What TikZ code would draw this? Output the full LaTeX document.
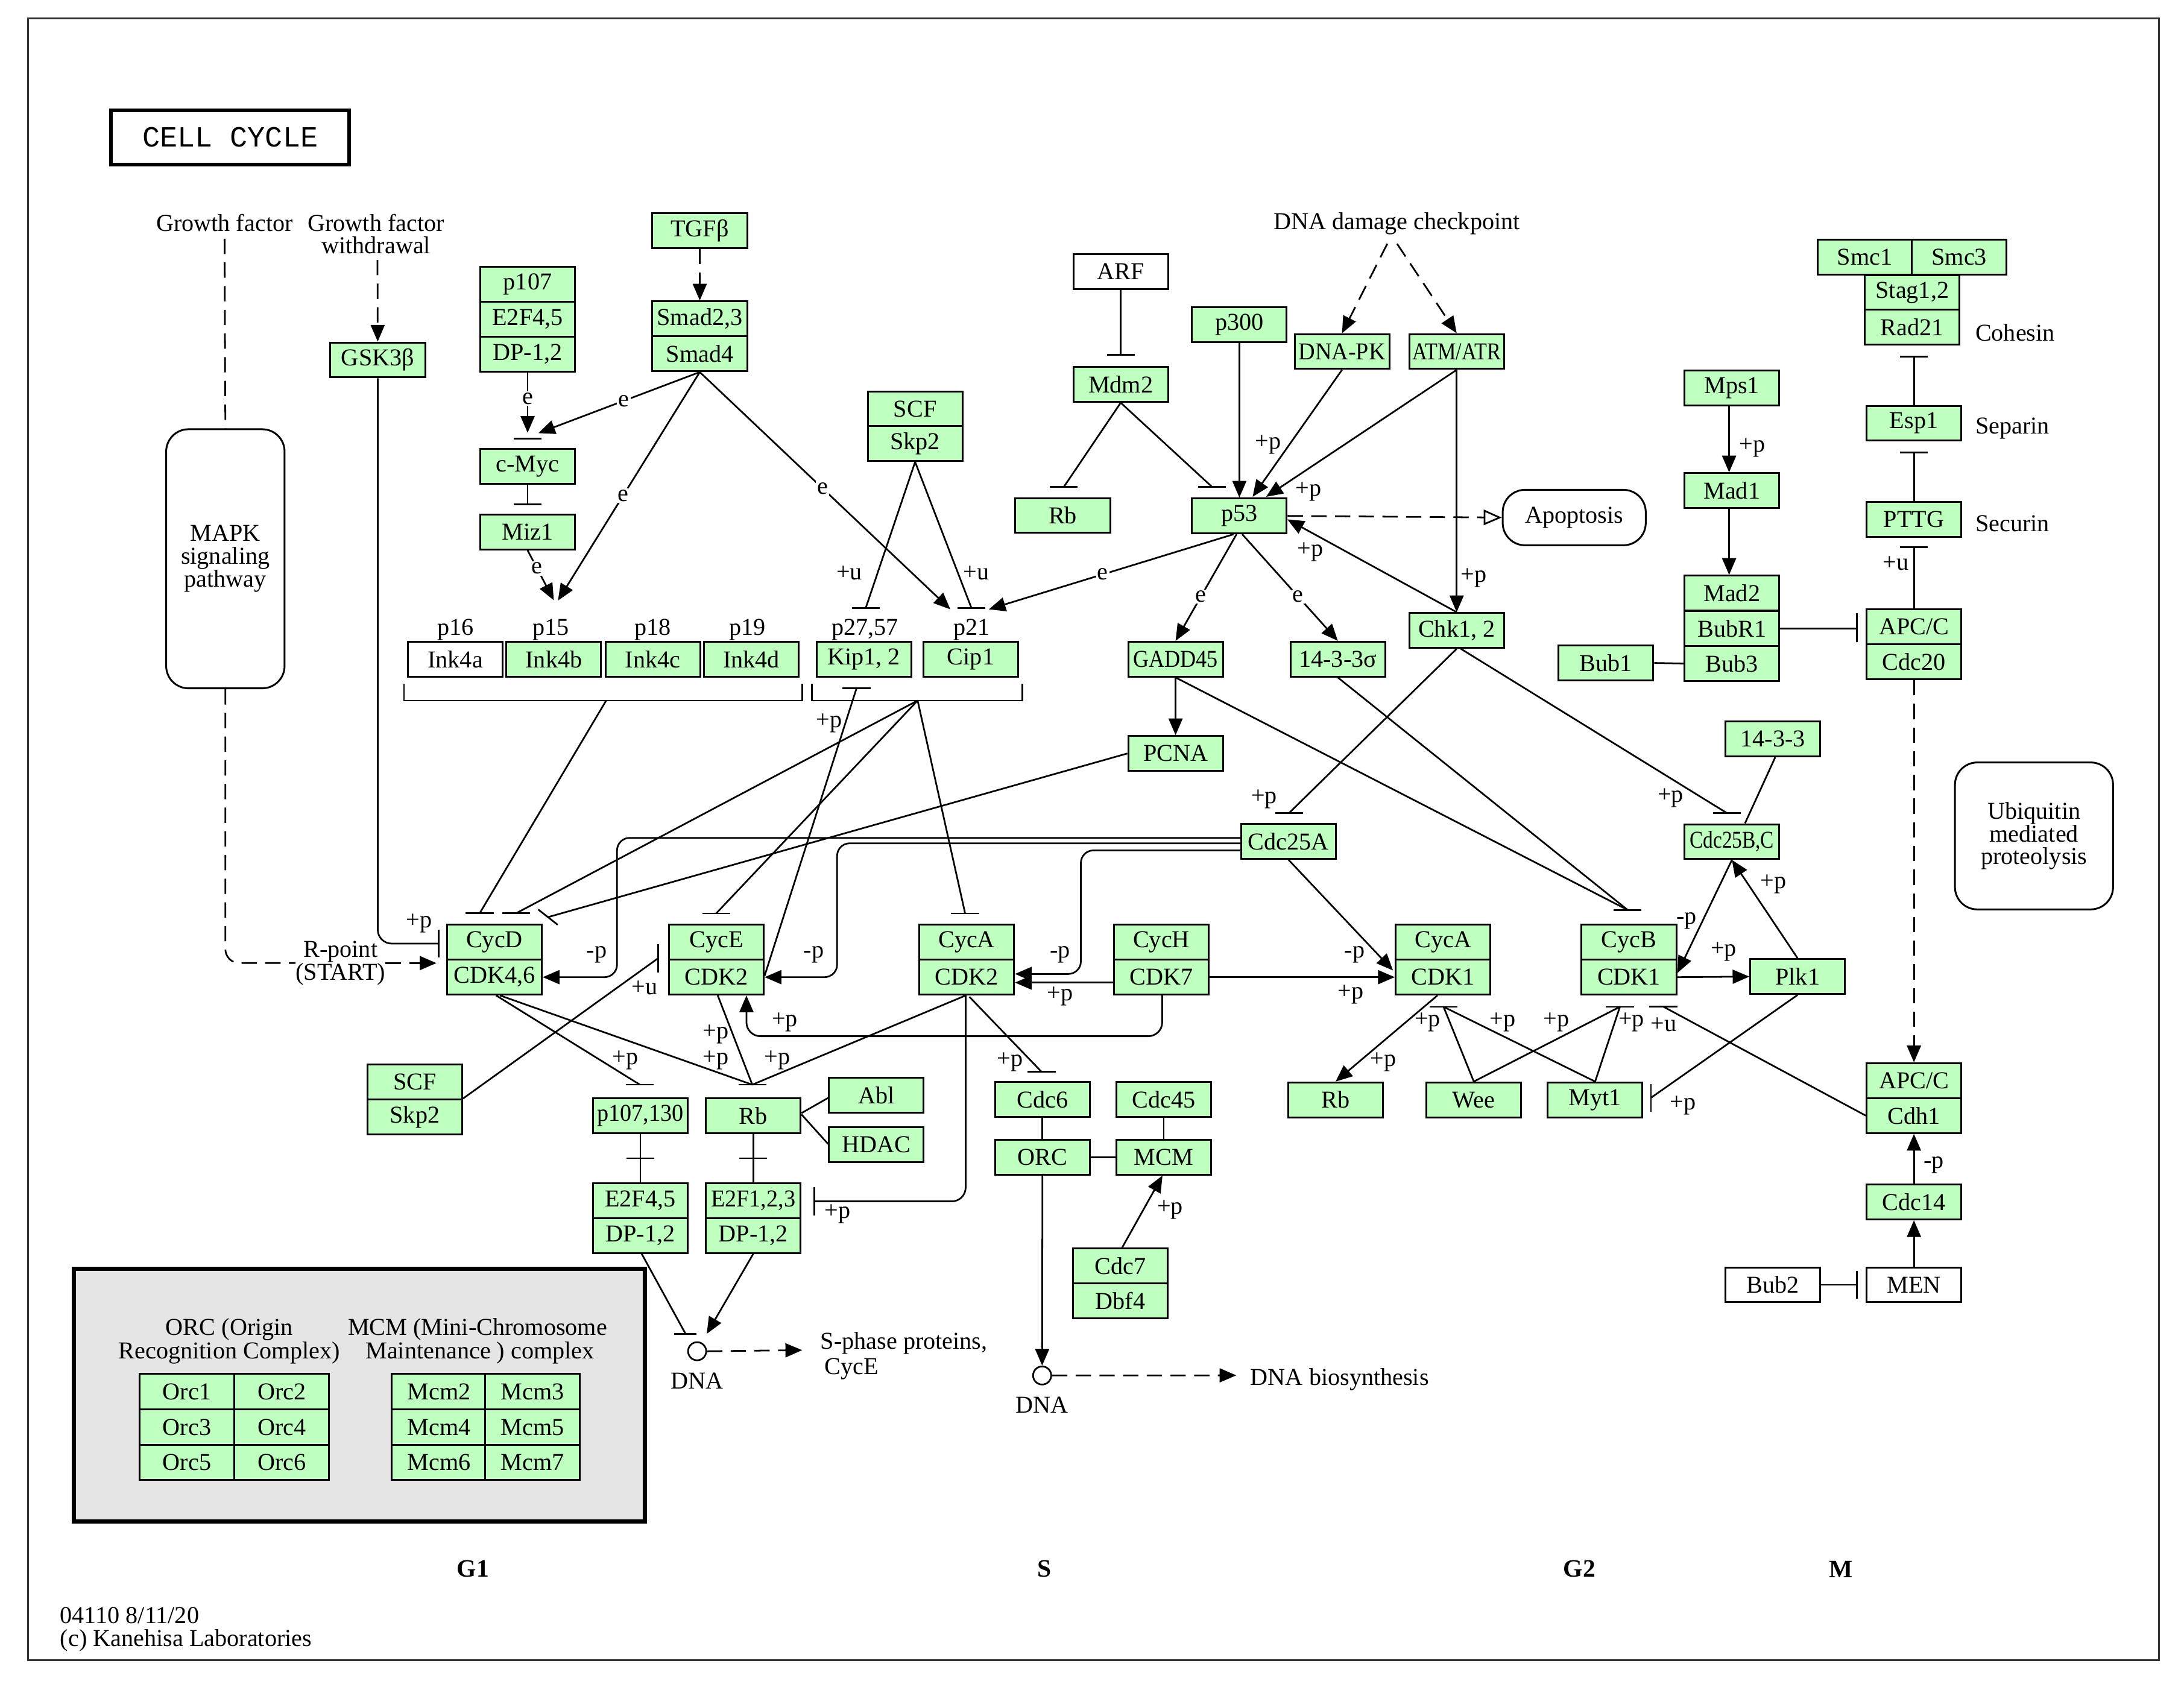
\documentclass[tikz,border=0pt]{standalone}
\usepackage{fontspec}
\usepackage{graphicx}
\setmainfont{Liberation Serif}
\newfontfamily\monof{Liberation Mono}
\usetikzlibrary{arrows.meta,calc}
\definecolor{kg}{RGB}{191,255,191}
\definecolor{kgray}{RGB}{229,229,229}
\newcommand\fs{\fontsize{17.4}{16.4}\selectfont}
\newcommand\sq[2][0.85]{\scalebox{#1}[1]{#2}}
\newcommand\bh[1]{\draw[ln] ($(#1)+(-10,0)$) -- ($(#1)+(10,0)$);}
\newcommand\bv[1]{\draw[ln] ($(#1)+(0,-10)$) -- ($(#1)+(0,10)$);}
\tikzset{
 ln/.style={line width=1.2pt},
 arw/.style={ln,-{Triangle[length=12pt,width=10pt]}},
 dsh/.style={ln,dash pattern=on 11pt off 6pt},
 dar/.style={arw,dash pattern=on 11pt off 6pt},
 box/.style={draw,line width=1.3pt,fill=kg,minimum width=68pt,minimum height=25pt,inner sep=0pt,font=\fs},
 wbox/.style={box,fill=white},
 rbox/.style={draw,line width=1.3pt,rounded corners=16pt,fill=white,inner sep=0pt,font=\fs,align=center},
 txt/.style={font=\fs,inner sep=0pt},
 el/.style={font=\fs,inner sep=1pt,fill=white},
 phase/.style={font=\fontsize{18}{18}\selectfont\bfseries,inner sep=0pt},
}
\begin{document}
\begin{tikzpicture}[x=1pt,y=-1pt]
\useasboundingbox (0,0) rectangle (1568,1213.4);
\fill[white] (0,0) rectangle (1568,1213.4);
\draw[line width=1.3pt,black!80] (20,13) rectangle (1550,1192);

% title
\node[draw,line width=2.6pt,minimum width=170.9,minimum height=38.8,inner sep=0pt,font=\monof\fontsize{21}{21}\selectfont] (title) at (165.25,98.6) {CELL CYCLE};

% free texts
\node[txt] (gf) at (161.2,160) {Growth factor};
\node[txt,align=center] (gfw) at (270,168) {Growth factor\\withdrawal};
\node[txt] (ddc) at (1002.8,160.4) {DNA damage checkpoint};
\node[txt,align=center] (rpt) at (244.5,691.5) {R-point\\(START)};
\node[rbox,minimum width=85,minimum height=186] (mapk) at (161.8,401.2) {MAPK\\signaling\\pathway};
\node[rbox,minimum width=113.5,minimum height=105.5] (ubiq) at (1460.3,600.2) {Ubiquitin\\mediated\\proteolysis};
\node[rbox,minimum width=102.7,minimum height=39.8] (apop) at (1130.2,371.6) {Apoptosis};

% gene boxes
\node[box] (gsk) at (271.2,258.4) {GSK3β};
\node[box] (p107) at (378.8,204) {p107};
\node[box] (e2f45a) at (378.8,229.2) {E2F4,5};
\node[box] (dp12a) at (378.8,254.3) {DP-1,2};
\node[box] (cmyc) at (378.8,334.9) {c-Myc};
\node[box] (miz1) at (378.8,382) {Miz1};
\node[box] (tgfb) at (502.4,165.6) {TGFβ};
\node[box] (smad23) at (502.4,228.9) {Smad2,3};
\node[box] (smad4) at (502.4,254) {Smad4};
\node[wbox] (ink4a) at (326.9,473.5) {Ink4a};
\node[box] (ink4b) at (397.6,473.5) {Ink4b};
\node[box] (ink4c) at (468.7,473.5) {Ink4c};
\node[box] (ink4d) at (539.4,473.5) {Ink4d};
\node[box] (kip) at (620.2,473.5) {Kip1, 2};
\node[box] (cip1) at (697,473.5) {Cip1};
\node[txt,anchor=base] at (327,456) {p16};
\node[txt,anchor=base] at (395.5,456) {p15};
\node[txt,anchor=base] at (468.8,456) {p18};
\node[txt,anchor=base] at (536.5,456) {p19};
\node[txt,anchor=base] at (621,456) {p27,57};
\node[txt,anchor=base] at (697.5,456) {p21};
\node[box] (scf1) at (657,293.5) {SCF};
\node[box] (skp2a) at (657,318.5) {Skp2};
\node[wbox] (arf) at (804.6,195) {ARF};
\node[box] (mdm2) at (804.6,276) {Mdm2};
\node[box] (rb1) at (763,370.1) {Rb};
\node[box] (p300) at (889.8,233.2) {p300};
\node[box] (dnapk) at (963.5,252.4) {\sq[0.95]{DNA-PK}};
\node[box] (atm) at (1045.8,252.4) {\sq{ATM/ATR}};
\node[box] (p53) at (889.8,370.4) {p53};
\node[box] (gadd45) at (844,473.3) {\sq[0.9]{GADD45}};
\node[box] (s1433s) at (960.5,473.3) {14-3-3σ};
\node[box] (chk) at (1045.8,452.7) {Chk1, 2};
\node[box] (pcna) at (844,541) {PCNA};
\node[box] (cdc25a) at (925.1,604.2) {Cdc25A};
\node[box] (cdc25bc) at (1243.4,604.3) {\sq[0.83]{Cdc25B,C}};
\node[box] (s1433) at (1272.9,530.6) {14-3-3};
\node[box] (bub1) at (1153,476) {Bub1};
\node[box] (mps1) at (1243.4,278.7) {Mps1};
\node[box] (mad1) at (1243.4,352.3) {Mad1};
\node[box] (mad2) at (1243.4,425.9) {Mad2};
\node[box] (bubr1) at (1243.4,451.2) {BubR1};
\node[box] (bub3) at (1243.4,476.4) {Bub3};
\node[box] (smc1) at (1338.8,184.6) {Smc1};
\node[box] (smc3) at (1406.6,184.6) {Smc3};
\node[box] (stag) at (1372.9,210) {Stag1,2};
\node[box] (rad21) at (1372.9,234.8) {Rad21};
\node[txt,anchor=west] at (1418,239) {Cohesin};
\node[box] (esp1) at (1374.1,303.9) {Esp1};
\node[txt,anchor=west] at (1418,307.6) {Separin};
\node[box] (pttg) at (1374.1,373) {PTTG};
\node[txt,anchor=west] at (1418,376) {Securin};
\node[box] (apcc1) at (1374.1,450) {APC/C};
\node[box] (cdc20) at (1374.1,475.2) {Cdc20};
\node[box] (apcc2) at (1374.1,775.9) {APC/C};
\node[box] (cdh1) at (1374.1,801) {Cdh1};
\node[box] (cdc14) at (1374.1,863) {Cdc14};
\node[wbox] (men) at (1374.1,922.5) {MEN};
\node[wbox] (bub2) at (1272.7,922.5) {Bub2};
\node[box] (cycd) at (355,676.5) {CycD};
\node[box] (cdk46) at (355,701.6) {CDK4,6};
\node[box] (cyce) at (514.3,676.5) {CycE};
\node[box] (cdk2e) at (514.3,701.6) {CDK2};
\node[box] (cyca2) at (694,676.5) {CycA};
\node[box] (cdk2a) at (694,701.6) {CDK2};
\node[box] (cych) at (833.8,676.5) {CycH};
\node[box] (cdk7) at (833.8,701.6) {CDK7};
\node[box] (cyca1) at (1036,676.5) {CycA};
\node[box] (cdk1a) at (1036,701.6) {CDK1};
\node[box] (cycb) at (1169.5,676.5) {CycB};
\node[box] (cdk1b) at (1169.5,701.6) {CDK1};
\node[box] (plk1) at (1290.6,701.2) {Plk1};
\node[box] (scf2) at (297.8,776.8) {SCF};
\node[box] (skp2b) at (297.8,801.9) {Skp2};
\node[box] (p107130) at (459.7,801.2) {\sq[0.95]{p107,130}};
\node[box] (rb2) at (540.8,801.2) {Rb};
\node[box] (abl) at (629.2,786.3) {Abl};
\node[box] (hdac) at (629.2,821.8) {HDAC};
\node[box] (e2f45b) at (459.7,862) {E2F4,5};
\node[box] (dp12b) at (459.7,887.1) {DP-1,2};
\node[box] (e2f123) at (540.8,862) {\sq[0.95]{E2F1,2,3}};
\node[box] (dp12c) at (540.8,887.1) {DP-1,2};
\node[box] (cdc6) at (748.4,789.5) {Cdc6};
\node[box] (cdc45) at (835.5,789.5) {Cdc45};
\node[box] (orc) at (748.4,830.9) {ORC};
\node[box] (mcm) at (835.5,830.9) {MCM};
\node[box] (cdc7) at (804.3,909) {Cdc7};
\node[box] (dbf4) at (804.3,934.1) {Dbf4};
\node[box] (rb3) at (958.9,789.7) {Rb};
\node[box] (wee) at (1058.1,789.7) {Wee};
\node[box] (myt1) at (1145.2,789.7) {Myt1};
\node[circle,draw,line width=1.2pt,minimum size=13pt,inner sep=0pt] (dna1) at (500.5,970.2) {};
\node[circle,draw,line width=1.2pt,minimum size=13pt,inner sep=0pt] (dna2) at (748.2,987.6) {};
\node[txt] at (500.5,991.5) {DNA};
\node[txt] at (748.2,1008.9) {DNA};
\node[txt,anchor=west] (sph) at (588.9,964.4) {S-phase proteins,};
\node[txt,anchor=west] at (591.9,982.8) {CycE};
\node[txt,anchor=west] (dbs) at (897.6,990.5) {DNA biosynthesis};

% legend box
\node[draw,line width=3pt,fill=kgray,minimum width=409.8,minimum height=181.5,inner sep=0pt] (legend) at (257.9,1001.75) {};
\node[txt] at (164.7,954.6) {ORC (Origin};
\node[txt] at (164.7,971.3) {Recognition Complex)};
\node[txt] at (342.9,954.6) {MCM (Mini-Chromosome};
\node[txt] at (344.6,971.3) {Maintenance ) complex};
\foreach \n/\x/\y in {Orc1/134.2/999.2,Orc2/202.3/999.2,Orc3/134.2/1024.7,Orc4/202.3/1024.7,Orc5/134.2/1049.9,Orc6/202.3/1049.9,Mcm2/315.3/999.2,Mcm3/382.4/999.2,Mcm4/315.3/1024.7,Mcm5/382.4/1024.7,Mcm6/315.3/1049.9,Mcm7/382.4/1049.9}
  \node[box,minimum height=25.3] (\n) at (\x,\y) {\n};

% phases and footer
\node[phase] at (339.6,1126.6) {G1};
\node[phase] at (750,1126.6) {S};
\node[phase] at (1134,1126.6) {G2};
\node[phase] at (1321.6,1126.6) {M};
\node[txt,anchor=west,align=left] at (43,1169.7) {04110 8/11/20\\(c) Kanehisa Laboratories};

% coordinates
\coordinate (bgsk) at (314.8,677.5);
\coordinate (bmyc) at (378.8,314.8);
\coordinate (amyc) at (386.5,311);
\coordinate (ap15a) at (400.6,431.2);
\coordinate (ap15b) at (397.6,431);
\coordinate (ap21a) at (682.3,437.5);
\coordinate (ap21b) at (709.9,437.5);
\coordinate (bmiz) at (378.8,362);
\coordinate (bkip) at (621.5,436.7);
\coordinate (bcip) at (697.5,436.7);
\coordinate (bmdm) at (804.6,254.8);
\coordinate (brb1) at (763.7,349.7);
\coordinate (bp53) at (870.3,349.7);
\coordinate (ap53b) at (899.3,356.7);
\coordinate (ap53c) at (909,356.7);
\coordinate (ap53e) at (924.2,372.9);
\coordinate (ddc1) at (996,175);
\coordinate (ddc2) at (1003,175);
\coordinate (brk1) at (435.2,503);
\coordinate (brk2) at (658.8,503);
\coordinate (bcycd1) at (344.4,655.7);
\coordinate (bcycd2) at (370.6,655.7);
\coordinate (bpcna) at (393.4,658.5);
\coordinate (bcyce) at (514.2,655.8);
\coordinate (bcyca2) at (692.9,655.8);
\coordinate (bkip2) at (614.9,494.3);
\coordinate (bc25a) at (925.5,583.7);
\coordinate (bc25bc) at (1240,583.9);
\coordinate (bcycb) at (1168.5,653.3);
\coordinate (bcyca1) at (1036.4,722.9);
\coordinate (bcycb2) at (1163,722.9);
\coordinate (bcycb3) at (1194.2,722.8);
\coordinate (bmyt) at (1185.3,788.2);
\coordinate (bcyceL) at (472.4,688.1);
\coordinate (bp107) at (459.4,778.8);
\coordinate (brb2) at (540.1,778.8);
\coordinate (bcdc6) at (747.8,769.6);
\coordinate (be2f) at (584.8,862.6);
\coordinate (bdna1) at (492.2,957.7);
\coordinate (adna1) at (507.4,957.7);
\coordinate (bcoh) at (1374.1,256.1);
\coordinate (besp) at (1374.1,325);
\coordinate (bpttg) at (1374.1,392.8);
\coordinate (bapc) at (1333,451.2);
\coordinate (bmen) at (1333,922.5);
\coordinate (acdk1a) at (1000.1,696.8);
\coordinate (acycb) at (1204.4,698.5);
\coordinate (xp107) at (459.7,831.6);
\coordinate (xrb) at (540.8,831.6);

% brackets
\draw[ln] (290,491) -- (290,503) -- (576,503) -- (576,491);
\draw[ln] (583,491) -- (583,503) -- (734,503) -- (734,491);

% left connectors
\draw[dsh] ($(gf.south)+(0,5)$) -- (mapk.north);
\draw[dsh,rounded corners=10pt] (mapk.south) |- (rpt.west);
\draw[dar,shorten >=7pt] (rpt.east) -- (rpt.east -| cycd.west);
\draw[dar] ($(gfw.south)+(1,4)$) -- (gsk.north);
\draw[ln,rounded corners=10pt] (gsk.south) |- (bgsk); \bv{bgsk}
\draw[arw] (dp12a.south) -- ($(cmyc.north)+(0,-11)$) node[el,pos=0.43] {e}; \bh{bmyc}
\draw[arw] (smad4.south) -- (amyc) node[el,pos=0.47] {e};
\draw[arw] (smad4.south) -- (ap15a) node[el,pos=0.54] {e};
\draw[arw] (smad4.south) -- (ap21a) node[el,pos=0.49] {e};
\draw[arw] (miz1.south) -- (ap15b) node[el,pos=0.36] {e};
\draw[dar] (tgfb.south) -- (smad23.north);
\draw[ln] (cmyc.south) -- (bmiz); \bh{bmiz}
\draw[ln] (skp2a.south) -- (bkip); \bh{bkip}
\draw[ln] (skp2a.south) -- (bcip); \bh{bcip}
\draw[ln] (arf.south) -- (bmdm); \bh{bmdm}
\draw[ln] (mdm2.south) -- (brb1); \bh{brb1}
\draw[ln] (mdm2.south) -- (bp53); \bh{bp53}
\draw[arw] (p300.south) -- (p53.north);
\draw[dar] (ddc1) -- (dnapk.north);
\draw[dar] (ddc2) -- (atm.north);
\draw[arw] (dnapk.south) -- (ap53b);
\draw[arw] (atm.south) -- (ap53c);
\draw[arw] (atm.south) -- (chk.north);
\draw[dsh,-{Triangle[open,length=13pt,width=11pt]}] (p53.east) -- (apop.west);
\draw[arw] (chk.north) -- (ap53e);
\draw[arw] ($(p53.south)+(-4,0)$) -- (ap21b) node[el,pos=0.535] {e};
\draw[arw] ($(p53.south)+(-2,0)$) -- (gadd45.north) node[el,pos=0.585] {e};
\draw[arw] ($(p53.south)+(2,0)$) -- (s1433s.north) node[el,pos=0.585] {e};
\draw[arw] (gadd45.south) -- (pcna.north);
\draw[ln] (pcna.west) -- (bpcna); \draw[ln] ($(bpcna)+(-7,-5.5)$) -- ($(bpcna)+(7,5.5)$);
\draw[ln] (brk1) -- (bcycd1); \bh{bcycd1}
\draw[ln] (brk2) -- (bcycd2); \bh{bcycd2}
\draw[ln] (brk2) -- (bcyce); \bh{bcyce}
\draw[ln] (brk2) -- (bcyca2); \bh{bcyca2}
\draw[ln] ($(cdk2e.east)+(0,-1)$) -- (bkip2); \bh{bkip2}

% Cdc25A loops
\draw[arw,rounded corners=9pt] ($(cdc25a.west)+(0,-2.6)$) -- (443,601.6) -- (443,701.6) -- (cdk46.east);
\draw[arw,rounded corners=9pt] ($(cdc25a.west)+(0,1.3)$) -- (601,605.5) -- (601,701.6) -- (cdk2e.east);
\draw[arw,rounded corners=9pt] ($(cdc25a.west)+(0,6.4)$) -- (776,610.6) -- (776,699.3) -- ($(cdk2a.east)+(0,-2.3)$);
\draw[arw] ($(cdk7.west)+(0,3.9)$) -- ($(cdk2a.east)+(0,3.9)$);
\draw[arw,rounded corners=10pt] ($(cdk7.south)+(0.6,0)$) -- (834.4,744) -- (535.9,744) -- ($(cdk2e.south)+(21.6,0)$);
\draw[arw] (cdc25a.south) -- (acdk1a);
\draw[arw] (cdk7.east) -- (cdk1a.west);
\draw[ln] (chk.south) -- (bc25a); \bh{bc25a}
\draw[ln] ($(chk.south)+(3,0)$) -- (bc25bc); \bh{bc25bc}
\draw[ln] ($(s1433.south)+(1.6,0)$) -- ($(cdc25bc.north)+(9.4,0)$);
\draw[arw] (cdc25bc.south) -- (acycb);
\draw[arw] (plk1.north) -- (cdc25bc.south);
\draw[arw] (cdk1b.east) -- (plk1.west);
\draw[ln] (gadd45.south) -- (bcycb); \bh{bcycb}
\draw[ln] (s1433s.south) -- (bcycb);
\draw[arw] ($(cdk1a.south)+(-4,0)$) -- (rb3.north);
\draw[ln] (wee.north) -- (bcyca1); \bh{bcyca1}
\draw[ln] (myt1.north) -- (bcyca1);
\draw[ln] (wee.north) -- (bcycb2); \bh{bcycb2}
\draw[ln] (myt1.north) -- (bcycb2);
\draw[ln] (cdh1.west) -- (bcycb3); \bh{bcycb3}
\draw[ln] (plk1.south) -- (bmyt); \bv{bmyt}

% lower left
\draw[ln] (skp2b.north east) -- (bcyceL); \bv{bcyceL}
\draw[ln] ($(cdk46.south)+(1.2,0)$) -- (bp107); \bh{bp107}
\draw[ln] ($(cdk46.south)+(4,0)$) -- (brb2); \bh{brb2}
\draw[ln] ($(cdk2e.south)+(1,0)$) -- (brb2);
\draw[ln] ($(cdk2a.south)+(-0.7,0)$) -- (brb2);
\draw[ln] ($(cdk2a.south)+(2,1)$) -- (bcdc6); \bh{bcdc6}
\draw[ln,rounded corners=10pt] ($(cdk2a.south)+(-0.7,0)$) -- (693.3,862.6) -- (be2f); \bv{be2f}
\draw[ln] ($(rb2.east)+(0,-2)$) -- ($(abl.west)+(0,2)$);
\draw[ln] ($(rb2.east)+(0,-1)$) -- ($(hdac.west)+(0,-0.4)$);
\draw[ln] (p107130.south) -- (e2f45b.north); \bh{xp107}
\draw[ln] (rb2.south) -- (e2f123.north); \bh{xrb}
\draw[ln] ($(dp12b.south)+(1,0)$) -- (bdna1); \draw[ln] ($(bdna1)+(-8,0)$) -- ($(bdna1)+(8,0)$);
\draw[arw] (dp12c.south) -- (adna1);
\draw[dar] (dna1.east) -- ($(sph.west)+(-13,5)$);
\draw[ln] (cdc6.south) -- (orc.north);
\draw[ln] (cdc45.south) -- (mcm.north);
\draw[ln] (orc.east) -- (mcm.west);
\draw[arw] ($(cdc7.north)+(1.3,0)$) -- ($(mcm.south)+(-0.9,0)$);
\draw[arw] (orc.south) -- (dna2.north);
\draw[dar] (dna2.east) -- ($(dbs.west)+(-10,-3)$);

% right side
\draw[ln] (esp1.north) -- (bcoh); \bh{bcoh}
\draw[ln] (pttg.north) -- (besp); \bh{besp}
\draw[ln] (apcc1.north) -- (bpttg); \bh{bpttg}
\draw[ln] (bubr1.east) -- (bapc); \draw[ln] ($(bapc)+(0,-11)$) -- ($(bapc)+(0,10)$);
\draw[arw] ($(mps1.south)+(-2,0)$) -- ($(mad1.north)+(-2,0)$);
\draw[arw] ($(mad1.south)+(-2,0)$) -- ($(mad2.north)+(-2,0)$);
\draw[ln] (bub1.east) -- (bub3.west);
\draw[dar] (cdc20.south) -- (apcc2.north);
\draw[arw] (cdc14.north) -- (cdh1.south);
\draw[arw] (men.north) -- (cdc14.south);
\draw[ln] (bub2.east) -- (bmen); \bv{bmen}

% edge labels
\foreach \x/\y in {301/663, 910.3/319.4, 939.3/353, 1058/415.1, 940.7/396.5, 1257.9/321.3, 595.3/519.1, 907.6/573.8, 1199.4/572.8, 761/715.4, 969.7/714.2, 1273.2/635, 1237.5/683.3, 563.5/734.1, 449/761.4, 513.8/742.8, 513.8/761.4, 558/761.4, 725/762.6, 993.2/762.6, 1024.9/734.1, 1078.8/734.1, 1117.4/734.1, 1171.3/734.1, 1208.3/793.7, 601.3/871.7, 840.1/868.8}
  \node[txt] at (\x,\y) {+p};
\foreach \x/\y in {609.7/411.4, 701/411.4, 1361/404.5, 462.8/709.2, 1194.3/735.7}
  \node[txt] at (\x,\y) {+u};
\foreach \x/\y in {428.3/685.6, 584.3/685.6, 761/685.6, 972.5/685.6, 1210.8/661.2, 1388.3/836.5}
  \node[txt] at (\x,\y) {-p};
\end{tikzpicture}
\end{document}
